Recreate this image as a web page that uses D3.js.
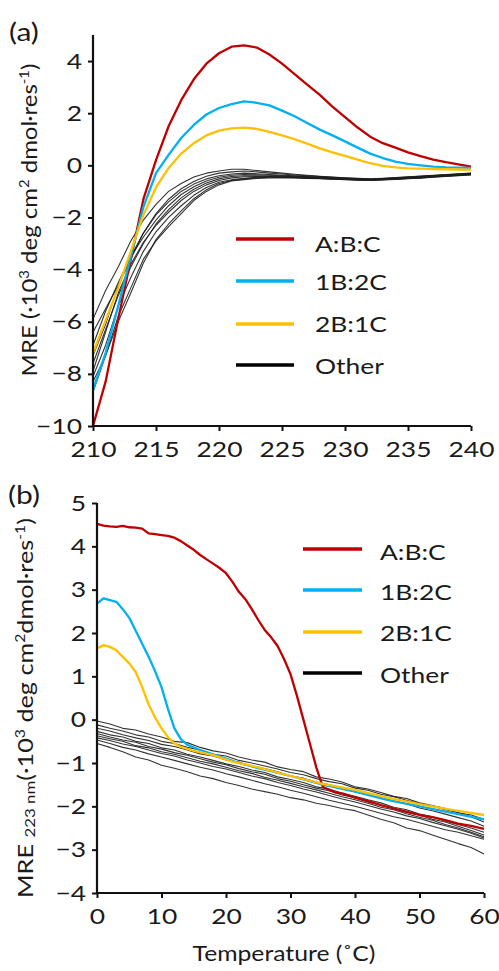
<!DOCTYPE html>
<html>
<head>
<meta charset="utf-8">
<script src="https://cdn.jsdelivr.net/npm/d3@7/dist/d3.min.js"></script>
<style>
  html, body { margin: 0; padding: 0; background: #fff; }
  svg { display: block; }
  text { font-family: Lato, "Open Sans", sans-serif; fill: #1a1a1a; }
</style>
</head>
<body>
<svg id="chart" width="499" height="971"></svg>
<script>
// ---------------- DATA ----------------
// Panel (a): wavelength (nm)
const wavelengths = d3.range(210, 241, 1);
const aTicksX = [210, 215, 220, 225, 230, 235, 240];
const aTicksY = [-10, -8, -6, -4, -2, 0, 2, 4];

const aABC = [-10, -8.3, -5.9, -3.6, -1.3, 0.2, 1.5, 2.5, 3.3, 3.9, 4.3, 4.55, 4.6, 4.52, 4.25, 3.9, 3.5, 3.1, 2.7, 2.25, 1.85, 1.45, 1.1, 0.85, 0.68, 0.5, 0.35, 0.22, 0.12, 0.04, -0.05];
const a1B2C = [-8.6, -7.2, -5.4, -3.5, -1.6, -0.3, 0.4, 1.05, 1.55, 1.95, 2.2, 2.35, 2.45, 2.4, 2.3, 2.1, 1.88, 1.62, 1.37, 1.15, 0.92, 0.68, 0.45, 0.28, 0.14, 0.06, 0.0, -0.05, -0.08, -0.09, -0.1];
const a2B1C = [-7.2, -5.95, -4.7, -3.3, -1.9, -0.85, -0.1, 0.45, 0.85, 1.15, 1.33, 1.42, 1.45, 1.4, 1.28, 1.15, 1.0, 0.83, 0.65, 0.5, 0.36, 0.22, 0.08, -0.02, -0.08, -0.12, -0.13, -0.14, -0.15, -0.16, -0.17];
const aOther = [
  [-5.9,-4.8,-3.9,-2.9,-2.1,-1.5,-1.0,-0.7,-0.45,-0.3,-0.22,-0.15,-0.15,-0.2,-0.25,-0.3,-0.34,-0.38,-0.42,-0.45,-0.48,-0.5,-0.52,-0.5,-0.47,-0.44,-0.41,-0.38,-0.35,-0.32,-0.3],
  [-6.4,-5.5,-4.6,-3.6,-2.6,-1.85,-1.3,-0.9,-0.62,-0.42,-0.3,-0.25,-0.22,-0.25,-0.3,-0.33,-0.37,-0.4,-0.43,-0.46,-0.49,-0.51,-0.53,-0.51,-0.48,-0.45,-0.42,-0.39,-0.36,-0.33,-0.31],
  [-6.9,-5.6,-4.5,-3.5,-2.6,-1.9,-1.4,-1.0,-0.72,-0.52,-0.4,-0.33,-0.3,-0.32,-0.35,-0.38,-0.4,-0.43,-0.45,-0.48,-0.5,-0.52,-0.54,-0.52,-0.49,-0.46,-0.43,-0.4,-0.37,-0.34,-0.31],
  [-7.3,-6.1,-4.6,-3.5,-2.75,-2.1,-1.55,-1.12,-0.82,-0.6,-0.46,-0.38,-0.35,-0.36,-0.38,-0.4,-0.42,-0.44,-0.46,-0.49,-0.51,-0.53,-0.55,-0.53,-0.5,-0.47,-0.44,-0.41,-0.38,-0.35,-0.32],
  [-7.6,-6.3,-5.0,-3.9,-3.0,-2.25,-1.7,-1.25,-0.92,-0.68,-0.52,-0.43,-0.4,-0.4,-0.41,-0.42,-0.44,-0.46,-0.48,-0.5,-0.52,-0.54,-0.55,-0.53,-0.51,-0.48,-0.45,-0.42,-0.39,-0.36,-0.33],
  [-7.9,-6.4,-4.9,-3.8,-2.95,-2.3,-1.8,-1.35,-1.0,-0.75,-0.58,-0.48,-0.44,-0.43,-0.43,-0.44,-0.45,-0.47,-0.49,-0.51,-0.53,-0.55,-0.56,-0.54,-0.52,-0.49,-0.46,-0.43,-0.4,-0.37,-0.34],
  [-8.1,-6.9,-5.4,-4.3,-3.3,-2.55,-2.0,-1.55,-1.15,-0.85,-0.65,-0.55,-0.5,-0.46,-0.45,-0.45,-0.46,-0.48,-0.5,-0.52,-0.54,-0.55,-0.56,-0.55,-0.52,-0.5,-0.47,-0.44,-0.41,-0.38,-0.35],
  [-8.3,-7.3,-6.0,-4.9,-3.75,-2.85,-2.25,-1.75,-1.28,-0.94,-0.7,-0.58,-0.52,-0.48,-0.46,-0.46,-0.47,-0.49,-0.5,-0.52,-0.54,-0.56,-0.57,-0.55,-0.53,-0.5,-0.48,-0.45,-0.42,-0.39,-0.36],
  [-8.7,-7.3,-5.8,-4.7,-3.6,-2.9,-2.35,-1.85,-1.35,-1.0,-0.75,-0.6,-0.55,-0.5,-0.48,-0.47,-0.48,-0.5,-0.51,-0.53,-0.55,-0.57,-0.58,-0.56,-0.54,-0.51,-0.49,-0.46,-0.43,-0.4,-0.37]
];

// Panel (b): temperature (°C)
const bTicksX = [0, 10, 20, 30, 40, 50, 60];
const bTicksY = [-4, -3, -2, -1, 0, 1, 2, 3, 4, 5];
const bABC = [[0,4.52],[1,4.48],[2,4.46],[3,4.45],[4,4.47],[5,4.44],[6,4.43],[7,4.41],[8,4.3],[9,4.28],[10,4.26],[11,4.24],[12,4.2],[13,4.12],[14,4.02],[15,3.92],[16,3.8],[17,3.7],[18,3.6],[19,3.5],[20,3.38],[21,3.18],[22,2.95],[23,2.78],[24,2.55],[25,2.3],[26,2.07],[27,1.9],[28,1.7],[29,1.4],[30,1.05],[31,0.55],[32,0.0],[33,-0.55],[34,-1.1],[35,-1.55],[36,-1.62],[37,-1.68],[38,-1.7],[40,-1.8],[42,-1.88],[44,-1.97],[46,-2.05],[48,-2.12],[50,-2.2],[52,-2.25],[54,-2.32],[56,-2.4],[58,-2.45],[60,-2.52]];
const b1B2C = [[0,2.68],[1,2.8],[2,2.76],[3,2.72],[4,2.55],[5,2.35],[6,2.05],[7,1.75],[8,1.45],[9,1.12],[10,0.75],[11,0.25],[12,-0.2],[13,-0.45],[14,-0.58],[16,-0.7],[18,-0.8],[20,-0.9],[22,-1.0],[25,-1.12],[30,-1.3],[35,-1.5],[40,-1.66],[45,-1.85],[50,-2.0],[55,-2.15],[60,-2.3]];
const b2B1C = [[0,1.64],[1,1.72],[2,1.68],[3,1.6],[4,1.45],[5,1.3],[6,1.1],[7,0.75],[8,0.35],[9,0.05],[10,-0.2],[11,-0.4],[12,-0.55],[13,-0.63],[15,-0.72],[18,-0.82],[21,-0.97],[25,-1.1],[30,-1.3],[35,-1.48],[40,-1.62],[45,-1.8],[50,-1.95],[55,-2.08],[60,-2.2]];
const temps = d3.range(0, 61, 2);
const bOther = [
  [-0.03,-0.1,-0.2,-0.24,-0.33,-0.4,-0.5,-0.53,-0.64,-0.72,-0.77,-0.86,-0.93,-0.98,-1.09,-1.15,-1.2,-1.32,-1.37,-1.44,-1.55,-1.6,-1.68,-1.77,-1.82,-1.92,-1.98,-2.05,-2.15,-2.2,-2.3],
  [-0.12,-0.2,-0.26,-0.35,-0.4,-0.5,-0.55,-0.64,-0.7,-0.8,-0.84,-0.94,-1.0,-1.07,-1.14,-1.22,-1.27,-1.36,-1.43,-1.48,-1.58,-1.63,-1.72,-1.78,-1.86,-1.94,-2.0,-2.08,-2.15,-2.24,-2.36],
  [-0.2,-0.26,-0.35,-0.42,-0.48,-0.57,-0.62,-0.7,-0.79,-0.84,-0.93,-0.98,-1.08,-1.13,-1.2,-1.3,-1.35,-1.44,-1.5,-1.58,-1.66,-1.72,-1.8,-1.88,-1.94,-2.04,-2.1,-2.18,-2.26,-2.34,-2.46],
  [-0.27,-0.35,-0.4,-0.5,-0.55,-0.65,-0.7,-0.8,-0.86,-0.94,-1.02,-1.08,-1.16,-1.22,-1.32,-1.38,-1.45,-1.55,-1.6,-1.7,-1.77,-1.85,-1.92,-2.02,-2.08,-2.18,-2.24,-2.34,-2.42,-2.5,-2.6],
  [-0.32,-0.4,-0.47,-0.52,-0.62,-0.68,-0.76,-0.82,-0.9,-0.98,-1.04,-1.13,-1.2,-1.26,-1.36,-1.42,-1.5,-1.58,-1.64,-1.74,-1.8,-1.9,-1.97,-2.05,-2.14,-2.2,-2.3,-2.36,-2.46,-2.56,-2.66],
  [-0.37,-0.44,-0.5,-0.6,-0.65,-0.74,-0.8,-0.88,-0.96,-1.02,-1.1,-1.18,-1.24,-1.33,-1.4,-1.47,-1.55,-1.62,-1.7,-1.78,-1.85,-1.93,-2.02,-2.08,-2.17,-2.25,-2.32,-2.42,-2.5,-2.6,-2.7],
  [-0.42,-0.48,-0.56,-0.62,-0.7,-0.78,-0.84,-0.93,-1.0,-1.08,-1.14,-1.22,-1.3,-1.36,-1.45,-1.52,-1.6,-1.67,-1.75,-1.83,-1.9,-1.98,-2.06,-2.13,-2.22,-2.28,-2.37,-2.45,-2.53,-2.62,-2.73],
  [-0.47,-0.55,-0.64,-0.7,-0.79,-0.86,-0.94,-1.02,-1.1,-1.16,-1.25,-1.32,-1.4,-1.48,-1.55,-1.63,-1.7,-1.78,-1.86,-1.93,-2.0,-2.08,-2.16,-2.24,-2.3,-2.38,-2.46,-2.54,-2.6,-2.68,-2.76],
  [-0.55,-0.64,-0.74,-0.86,-0.93,-1.05,-1.12,-1.2,-1.3,-1.36,-1.45,-1.52,-1.6,-1.66,-1.72,-1.8,-1.85,-1.93,-1.98,-2.05,-2.1,-2.2,-2.3,-2.38,-2.5,-2.56,-2.66,-2.76,-2.86,-2.95,-3.1]
];

const legendLabels = ["A:B:C", "1B:2C", "2B:1C", "Other"];
const colors = ["#C00000", "#00B0F0", "#FFC000", "#000000"];

// ---------------- DRAW ----------------
const SX = 1.2; // horizontal stretch of text (Calibri-like wide look)
const svg = d3.select("#chart");

function stretch(sel, sx) {
  sel.each(function () {
    const x0 = +(this.getAttribute("x") || 0);
    this.setAttribute("transform", `translate(${x0 * (1 - sx)},0) scale(${sx},1)`);
  });
}

function drawPanel(cfg) {
  const x = d3.scaleLinear().domain(cfg.xDomain).range(cfg.xRange);
  const y = d3.scaleLinear().domain(cfg.yDomain).range(cfg.yRange);
  const g = svg.append("g");

  const line = d3.line().x(d => x(d[0])).y(d => y(d[1]));

  cfg.other.forEach(s => {
    g.append("path").attr("d", line(s)).attr("fill", "none")
      .attr("stroke", "#1e1e1e").attr("stroke-width", 1.1).attr("stroke-opacity", 0.9)
      .attr("stroke-linejoin", "round");
  });
  cfg.series.forEach((s, i) => {
    g.append("path").attr("d", line(s)).attr("fill", "none")
      .attr("stroke", colors[i]).attr("stroke-width", 2.3)
      .attr("stroke-linejoin", "round");
  });

  const xAxis = d3.axisBottom(x).tickValues(cfg.xTicks).tickSize(5).tickPadding(10).tickFormat(d3.format("d"));
  const yAxis = d3.axisLeft(y).tickValues(cfg.yTicks).tickSize(5).tickPadding(6).tickFormat(d3.format("d"));
  const gx = g.append("g").attr("transform", `translate(0,${cfg.yRange[0]})`).call(xAxis);
  const gy = g.append("g").attr("transform", `translate(${cfg.xRange[0]},0)`).call(yAxis);
  [gx, gy].forEach(a => {
    a.select(".domain").attr("stroke", "#111").attr("stroke-width", 2.2);
    a.selectAll(".tick line").attr("stroke", "#111").attr("stroke-width", 2);
    a.selectAll(".tick text").attr("font-size", 22).attr("fill", "#1a1a1a")
      .style("font-family", "Lato, 'Open Sans', sans-serif");
    stretch(a.selectAll(".tick text"), SX);
  });
  gx.select(".domain").attr("d", `M${cfg.xRange[0]},0H${cfg.xRange[1]}`);
  gy.select(".domain").attr("d", `M0,${cfg.yRange[0]}V${cfg.yRange[1]}`);

  const lg = g.append("g");
  legendLabels.forEach((lab, i) => {
    lg.append("line").attr("x1", cfg.legX1).attr("x2", cfg.legX2)
      .attr("y1", cfg.legY[i]).attr("y2", cfg.legY[i])
      .attr("stroke", colors[i]).attr("stroke-width", 3.5);
    const t = lg.append("text").attr("x", cfg.legTextX).attr("y", cfg.legTextY[i])
      .attr("dominant-baseline", "central").attr("font-size", 22).text(lab);
    stretch(t, SX);
  });

  const pl = g.append("text").attr("x", cfg.labelPos[0]).attr("y", cfg.labelPos[1])
    .attr("font-size", 25).text(cfg.label);
  stretch(pl, SX);
  return {x, y, g};
}

drawPanel({
  xDomain: [210, 240], xRange: [93, 471],
  yDomain: [-10, 5], yRange: [426, 35],
  xTicks: aTicksX, yTicks: aTicksY,
  other: aOther.map(s => s.map((v, i) => [wavelengths[i], v])),
  series: [aABC, a1B2C, a2B1C].map(s => s.map((v, i) => [wavelengths[i], v])),
  legX1: 236, legX2: 294, legY: [239, 281, 324, 365],
  legTextX: 315, legTextY: [243, 281.5, 323.5, 365.5],
  label: "(a)", labelPos: [9, 41]
});

drawPanel({
  xDomain: [0, 60], xRange: [97, 484],
  yDomain: [-4, 5], yRange: [893, 503],
  xTicks: bTicksX, yTicks: bTicksY,
  other: bOther.map(s => s.map((v, i) => [temps[i], v])),
  series: [bABC, b1B2C, b2B1C],
  legX1: 303, legX2: 362, legY: [549, 590, 632, 673],
  legTextX: 380, legTextY: [551, 591, 632.5, 674],
  label: "(b)", labelPos: [8, 504]
});

function yTitle(tx, ty, withSub, target) {
  const t = svg.append("text").attr("text-anchor", "middle").attr("font-size", 21);
  t.append("tspan").text("MRE ");
  if (withSub) {
    t.append("tspan").attr("font-size", 14).attr("dy", 2).text(" 223 nm");
    t.append("tspan").attr("dy", -2).text("(·10");
  } else {
    t.append("tspan").text("(·10");
  }
  t.append("tspan").attr("font-size", 13).attr("dy", -8).text("3");
  t.append("tspan").attr("dy", 8).text(" deg cm");
  t.append("tspan").attr("font-size", 13).attr("dy", -8).text("2");
  t.append("tspan").attr("dy", 8).text(withSub ? "dmol·res" : " dmol·res");
  t.append("tspan").attr("font-size", 13).attr("dy", -8).text("-1");
  t.append("tspan").attr("dy", 8).text(")");
  const len = t.node().getBBox().width;
  const s = target / len;
  t.attr("transform", `translate(${tx},${ty}) rotate(-90) scale(${s},1)`);
  return t;
}
yTitle(37, 220, false, 313);
yTitle(33, 708, true, 380);

const tt = svg.append("text").attr("x", 0).attr("y", 0).attr("text-anchor", "middle")
  .attr("font-size", 22).text("Temperature (˚C)");
const tl = tt.node().getBBox().width;
tt.attr("transform", `translate(284,961) scale(${183 / tl},1)`);
</script>
</body>
</html>
